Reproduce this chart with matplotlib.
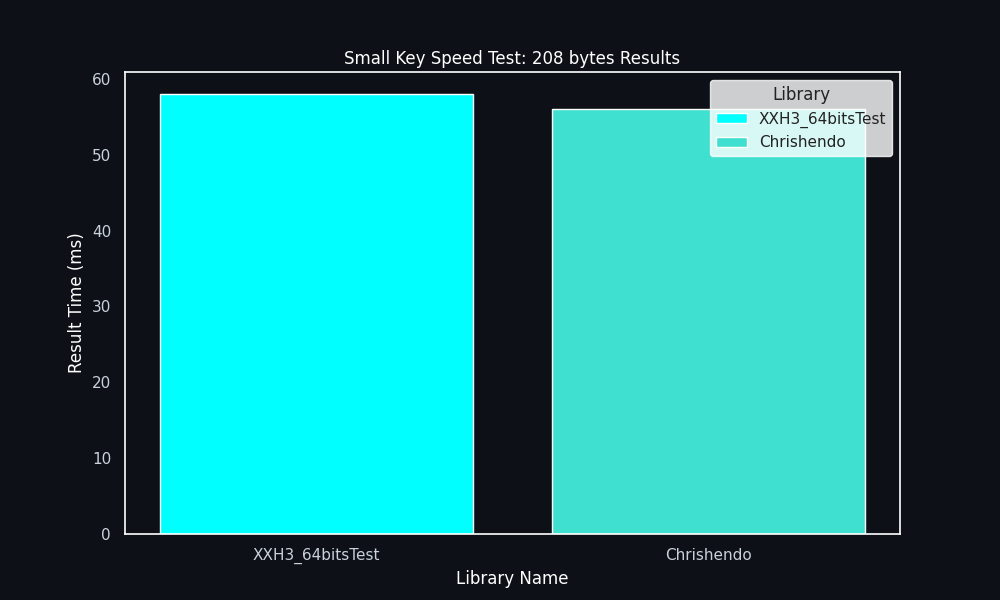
import matplotlib
matplotlib.use("Agg")
from matplotlib import pyplot as plt

# data
libraries = ["XXH3_64bitsTest", "Chrishendo"]
times_ms = [58, 56]
bar_colors = ["#00FFFF", "#40E0D0"]

bg = "#0d1117"
fg = "#c9d1d9"

fig, ax = plt.subplots(figsize=(10, 6), dpi=100)
fig.patch.set_facecolor(bg)
ax.set_facecolor(bg)

for i, (name, t, c) in enumerate(zip(libraries, times_ms, bar_colors)):
    ax.bar(i, t, width=0.8, color=c, edgecolor="white", label=name)

ax.set_xticks(range(len(libraries)))
ax.set_xticklabels(libraries)
ax.set_xlim(-0.49, len(libraries) - 0.51)

ax.set_title("Small Key Speed Test: 208 bytes Results", color="white", fontsize=12)
ax.set_xlabel("Library Name", color="white", fontsize=12)
ax.set_ylabel("Result Time (ms)", color="white", fontsize=12)
ax.tick_params(colors=fg, labelsize=11, length=0, pad=10)
for s in ax.spines.values():
    s.set_color("white")
    s.set_linewidth(1.2)

leg = ax.legend(title="Library", fontsize=11, title_fontsize=12,
                loc="upper right", facecolor="white", framealpha=0.8,
                edgecolor="white")
for t in leg.get_texts():
    t.set_color("#222222")
leg.get_title().set_color("#222222")

plt.savefig("out.png", facecolor=bg)
